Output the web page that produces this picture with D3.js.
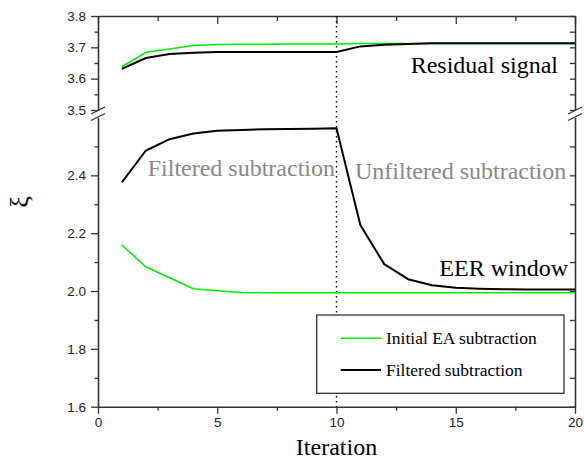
<!DOCTYPE html>
<html>
<head>
<meta charset="utf-8">
<script src="https://cdn.jsdelivr.net/npm/d3@7"></script>
<style>
  body { margin: 0; background: #fff; }
  svg { display: block; }
  .tick text { font-family: Arial, "Liberation Sans", sans-serif; font-size: 13.5px; fill: #222; }
  .serif { font-family: "Liberation Serif", Times, "Times New Roman", "DejaVu Serif", serif; }
</style>
</head>
<body>
<svg id="chart" width="584" height="460"></svg>
<script>
// iterations on the x axis
const iterations = d3.range(1, 21);

// upper (broken) segment: residual signal
const initialUpper = [3.638, 3.684, 3.695, 3.706, 3.709, 3.710, 3.710, 3.711, 3.711, 3.711,
                      3.712, 3.712, 3.712, 3.712, 3.712, 3.712, 3.712, 3.712, 3.712, 3.712];
const filteredUpper = [3.631, 3.666, 3.679, 3.683, 3.685, 3.685, 3.685, 3.685, 3.685, 3.685,
                       3.703, 3.708, 3.711, 3.713, 3.713, 3.713, 3.713, 3.713, 3.713, 3.713];

// lower segment: EER window
const initialLower = [2.159, 2.084, 2.046, 2.008, 2.001, 1.995, 1.994, 1.994, 1.994, 1.994,
                      1.994, 1.994, 1.994, 1.994, 1.994, 1.994, 1.994, 1.994, 1.994, 1.994];
const filteredLower = [2.376, 2.485, 2.525, 2.545, 2.554, 2.557, 2.559, 2.560, 2.561, 2.563,
                       2.228, 2.093, 2.041, 2.020, 2.011, 2.008, 2.006, 2.005, 2.005, 2.005];

const xTicks = [0, 5, 10, 15, 20];
const xMinor = [2.5, 7.5, 12.5, 17.5];
const upperTicks = [3.5, 3.6, 3.7, 3.8];
const upperMinor = [3.55, 3.65, 3.75];
const lowerTicks = [1.6, 1.8, 2.0, 2.2, 2.4];
const lowerMinor = [1.7, 1.9, 2.1, 2.3, 2.5];
const switchIteration = 10;

const seriesNames = ["Initial EA subtraction", "Filtered subtraction"];
const seriesColors = ["#00ee00", "#000000"];

const svg = d3.select("#chart");
const [pl, pr, pt, pb] = [98, 575, 16, 406.7];
const axisColor = "#333";

const x = d3.scaleLinear().domain([0, 20]).range([pl, pr]);
const yUp = d3.scaleLinear().domain([3.5, 3.8]).range([110, pt]);
const yLow = d3.scaleLinear().domain([1.6, 2.6]).range([pb, 117.5]);

function styleAxis(g) {
  g.selectAll("path.domain").attr("stroke", axisColor).attr("stroke-width", 1.6);
  g.selectAll(".tick line").attr("stroke", axisColor).attr("stroke-width", 1.3);
}

// bottom axis
svg.append("g").attr("transform", `translate(0,${pb})`)
  .call(d3.axisBottom(x).tickValues(xTicks).tickSize(7).tickSizeOuter(0).tickPadding(4))
  .call(styleAxis);
svg.append("g").attr("transform", `translate(0,${pb})`)
  .call(d3.axisBottom(x).tickValues(xMinor).tickSize(4).tickFormat(""))
  .call(styleAxis).call(g => g.select(".domain").remove());
// top axis (mirror, inward ticks)
svg.append("g").attr("transform", `translate(0,${pt})`)
  .call(d3.axisBottom(x).tickValues(xTicks).tickSize(8).tickSizeOuter(0).tickFormat(""))
  .call(styleAxis);
svg.append("g").attr("transform", `translate(0,${pt})`)
  .call(d3.axisBottom(x).tickValues(xMinor).tickSize(5).tickFormat(""))
  .call(styleAxis).call(g => g.select(".domain").remove());

// left and right axes, each segment
[[yUp, upperTicks, upperMinor], [yLow, lowerTicks, lowerMinor]].forEach(([sc, maj, mnr]) => {
  svg.append("g").attr("transform", `translate(${pl},0)`)
    .call(d3.axisLeft(sc).tickValues(maj).tickSize(7).tickSizeOuter(0).tickPadding(5).tickFormat(d3.format(".1f")))
    .call(styleAxis);
  svg.append("g").attr("transform", `translate(${pl},0)`)
    .call(d3.axisLeft(sc).tickValues(mnr).tickSize(3.5).tickFormat(""))
    .call(styleAxis).call(g => g.select(".domain").remove());
  svg.append("g").attr("transform", `translate(${pr},0)`)
    .call(d3.axisLeft(sc).tickValues(maj.concat(mnr)).tickSize(5).tickSizeOuter(0).tickFormat(""))
    .call(styleAxis);
});

// break marks
[pl, pr].forEach(bx => {
  [yUp(3.5) + 0.5, yLow(2.6) - 0.5].forEach(by => {
    svg.append("line")
      .attr("x1", bx - 7).attr("y1", by + 3.5).attr("x2", bx + 7).attr("y2", by - 3.5)
      .attr("stroke", axisColor).attr("stroke-width", 1.3);
  });
});

// dotted divider
svg.append("line")
  .attr("x1", x(switchIteration)).attr("x2", x(switchIteration))
  .attr("y1", pt).attr("y2", pb)
  .attr("stroke", "#000").attr("stroke-width", 1.4).attr("stroke-dasharray", "1.4,3.6");

// series lines
const plots = [
  [initialUpper, yUp, 0], [initialLower, yLow, 0],
  [filteredUpper, yUp, 1], [filteredLower, yLow, 1]
];
plots.forEach(([vals, sc, k]) => {
  const line = d3.line().x((d, i) => x(iterations[i])).y(d => sc(d));
  svg.append("path").datum(vals)
    .attr("d", line)
    .attr("fill", "none")
    .attr("stroke", seriesColors[k])
    .attr("stroke-width", k === 0 ? 1.5 : 2)
    .attr("stroke-linejoin", "round");
});

// annotations
const notes = [
  ["Residual signal", 558, 73, "end", "#000"],
  ["Filtered subtraction", 335, 176, "end", "#888"],
  ["Unfiltered subtraction", 355, 179, "start", "#888"],
  ["EER window", 568, 276, "end", "#000"]
];
notes.forEach(([t, tx, ty, anchor, col]) => {
  svg.append("text").attr("class", "serif").attr("x", tx).attr("y", ty)
    .attr("text-anchor", anchor).attr("fill", col)
    .style("font-size", "24px").text(t);
});

// axis titles
svg.append("text").attr("class", "serif").attr("x", x(10)).attr("y", 455)
  .attr("text-anchor", "middle").style("font-size", "24px").text("Iteration");
svg.append("text").attr("class", "serif").attr("transform", "translate(28,202) rotate(-90)")
  .attr("text-anchor", "middle").style("font-size", "26px").text("ξ");

// legend
const legend = svg.append("g");
legend.append("rect").attr("x", 316.7).attr("y", 315).attr("width", 247.3).attr("height", 78.3)
  .attr("fill", "#fff").attr("stroke", "#222").attr("stroke-width", 1.2);
seriesNames.forEach((name, i) => {
  const ly = 338.3 + i * 31.7;
  legend.append("line").attr("x1", 340.7).attr("x2", 381).attr("y1", ly).attr("y2", ly)
    .attr("stroke", seriesColors[i]).attr("stroke-width", i === 0 ? 1.5 : 2);
  legend.append("text").attr("class", "serif").attr("x", 386).attr("y", ly + 5.5)
    .style("font-size", "17.5px").text(name);
});
</script>
</body>
</html>
